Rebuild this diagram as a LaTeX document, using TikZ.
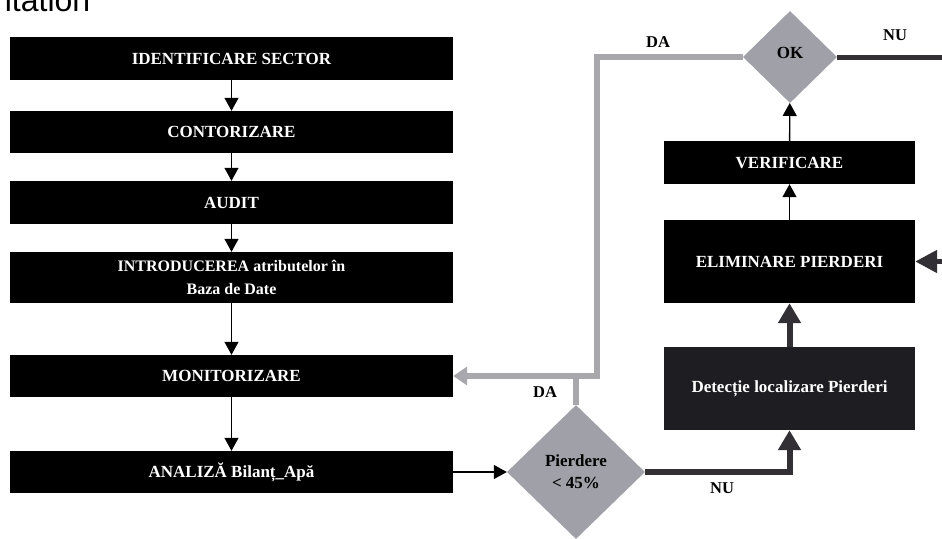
\documentclass[tikz,border=0pt]{standalone}
\usepackage{fontspec}
\setmainfont{Liberation Serif}
\newfontfamily\hdfont{Liberation Sans}
\usetikzlibrary{shapes.geometric,arrows.meta}
\definecolor{diafill}{RGB}{160,160,168}
\definecolor{grayline}{RGB}{168,168,172}
\definecolor{darkline}{RGB}{50,48,52}
\definecolor{detfill}{RGB}{30,30,34}
\begin{document}
\begin{tikzpicture}[x=1pt,y=-1pt,
  lbox/.style={fill=black,text=white,font=\bfseries\fontsize{17}{22}\selectfont,minimum width=443pt,inner sep=0pt,align=center},
  rbox/.style={fill=black,text=white,font=\bfseries\fontsize{17}{22}\selectfont,minimum width=251pt,inner sep=0pt,align=center},
  dec/.style={diamond,fill=diafill,inner sep=0pt,font=\bfseries\fontsize{17}{22}\selectfont,align=center},
  thinarrow/.style={draw=black,line width=1.3pt,-{Triangle[width=14pt,length=13pt]}},
  thickarrow/.style={draw=darkline,line width=6pt,-{Triangle[width=22pt,length=20pt]}},
  grayl/.style={draw=grayline,line width=6pt},
  lbl/.style={font=\bfseries\fontsize{16.5}{20}\selectfont,inner sep=0pt}]
\useasboundingbox (0,0) rectangle (942,538);
\clip (0,0) rectangle (942,538);
\fill[white] (0,0) rectangle (942,538);

\node[anchor=base west,inner sep=0pt,font=\hdfont\fontsize{32}{32}\selectfont] (hdr) at (-6,12) {ntation};

% left column
\node[lbox,minimum height=43pt] (ids) at (231.5,58.5) {IDENTIFICARE SECTOR};
\node[lbox,minimum height=42pt] (cont) at (231.5,132) {CONTORIZARE};
\node[lbox,minimum height=43pt] (aud) at (231.5,202.5) {AUDIT};
\node[lbox,minimum height=51pt,font=\bfseries\fontsize{16}{23}\selectfont] (intro) at (231.5,277.5) {INTRODUCEREA atributelor în\\Baza de Date};
\node[lbox,minimum height=42pt] (mon) at (231.5,376) {MONITORIZARE};
\node[lbox,minimum height=42pt] (anl) at (231.5,472) {ANALIZĂ Bilanț\_Apă};

% right column
\node[rbox,minimum height=43pt] (ver) at (789.5,162.5) {VERIFICARE};
\node[rbox,minimum height=83pt] (elim) at (789.5,261.5) {ELIMINARE PIERDERI};
\node[rbox,minimum height=83pt,fill=detfill] (det) at (789.5,388.5) {Detecție localizare Pierderi};

% decisions
\node[dec,minimum width=138pt,minimum height=134pt] (pie) at (576,472) {Pierdere\\< 45\%};
\node[dec,minimum width=94pt,minimum height=92pt] (ok) at (790,57) {\raisebox{9pt}{OK}};

% labels
\node[lbl] (da1) at (545,392) {DA};
\node[lbl] (da2) at (658,42) {DA};
\node[lbl] (nu1) at (722,488) {NU};
\node[lbl] (nu2) at (895,35) {NU};

% left flow
\draw[thinarrow] (ids) -- (cont);
\draw[thinarrow] (cont) -- (aud);
\draw[thinarrow] (aud) -- (intro);
\draw[thinarrow] (intro) -- (mon);
\draw[thinarrow] (mon) -- (anl);
\draw[thinarrow] (anl.east) -- (pie.west);

% right flow
\draw[thinarrow] (elim) -- (ver);
\draw[thinarrow] (ver) -- (ok);
\draw[thickarrow] (det) -- (elim);
\draw[thickarrow] (pie.east) -| (det.south);

% DA paths (gray)
\coordinate (j1) at (597,376);
\coordinate (j0) at (597,57);
\draw[grayl,-{Triangle[width=18pt,length=14pt]}] (ok.west) -- (j0) -- (j1) -- (mon.east);
\draw[grayl] (pie.north) -- (pie.north |- j1);

% NU from OK (goes off the right edge)
\coordinate (r1) at (965,57);
\coordinate (r2) at (965,261.5);
\draw[draw=darkline,line width=5pt,-{Triangle[width=22pt,length=22pt]}] (ok.east) -- (r1) -- (r2) -- (elim.east);
\end{tikzpicture}
\end{document}
